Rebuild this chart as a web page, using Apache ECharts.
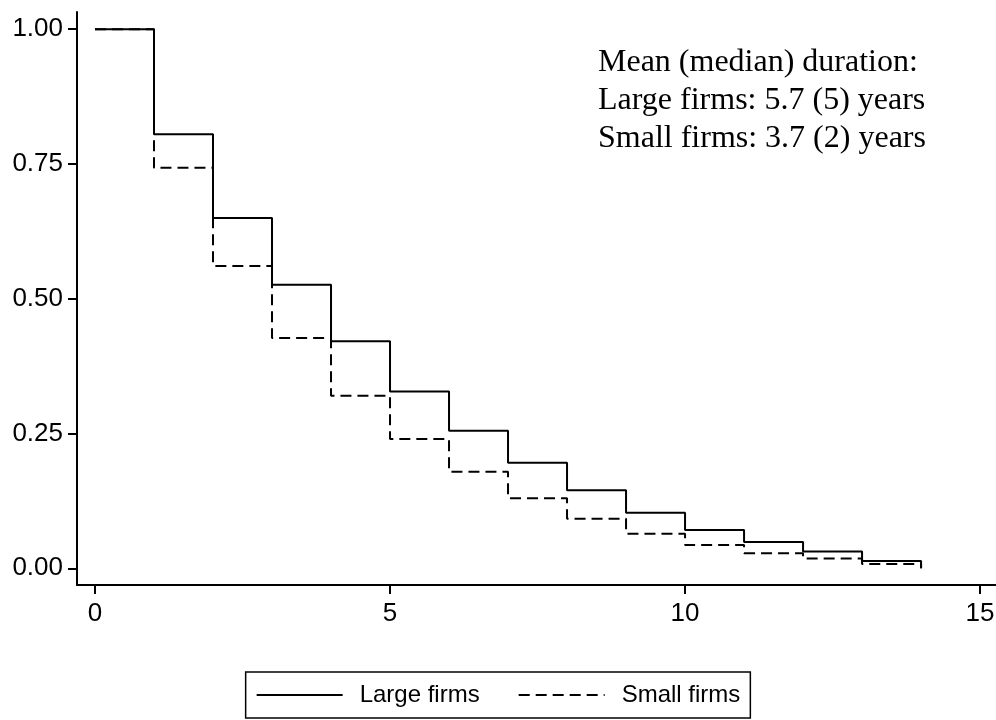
<!DOCTYPE html>
<html>
<head>
<meta charset="utf-8">
<script src="https://cdn.jsdelivr.net/npm/echarts@6/dist/echarts.min.js"></script>
<style>
html,body{margin:0;padding:0;background:#fff;}
#chart{width:996px;height:720px;}
</style>
</head>
<body>
<div id="chart"></div>
<script>
// Analysis time (years)
const years = [0, 1, 2, 3, 4, 5, 6, 7, 8, 9, 10, 11, 12, 13, 14];
// Survival estimates (step function, value holds until next year)
const largeFirms = [1.00, 0.805, 0.650, 0.526, 0.421, 0.328, 0.255, 0.196, 0.145, 0.103, 0.071, 0.049, 0.031, 0.0135, 0.0];
const smallFirms = [1.00, 0.743, 0.561, 0.427, 0.320, 0.240, 0.179, 0.130, 0.092, 0.064, 0.043, 0.028, 0.018, 0.008, 0.0];
const xTicks = [0, 5, 10, 15];
const yTicks = [0, 0.25, 0.5, 0.75, 1];
const seriesNames = ['Large firms', 'Small firms'];
const noteLines = ['Mean (median) duration:', 'Large firms: 5.7 (5) years', 'Small firms: 3.7 (2) years'];

const pairs = (xs, ys) => xs.map((x, i) => [x, ys[i]]);
const sans = 'Liberation Sans';

const chart = echarts.init(document.getElementById('chart'), null, {renderer: 'canvas'});
chart.setOption({
  backgroundColor: '#ffffff',
  animation: false,
  grid: {left: 77, right: 0, top: 12, bottom: 135, outerBoundsMode: 'none', containLabel: false},
  xAxis: {
    type: 'value', min: -0.305, max: 15.27,
    splitLine: {show: false},
    axisLine: {show: true, onZero: false, lineStyle: {color: '#000', width: 2}},
    axisTick: {show: true, customValues: xTicks, length: 9, lineStyle: {color: '#000', width: 2}},
    axisLabel: {customValues: xTicks, color: '#000', fontSize: 26, fontFamily: sans, margin: 16}
  },
  yAxis: {
    type: 'value', min: -0.031, max: 1.032,
    splitLine: {show: false},
    axisLine: {show: true, onZero: false, lineStyle: {color: '#000', width: 2}},
    axisTick: {show: true, customValues: yTicks, length: 9, lineStyle: {color: '#000', width: 2}},
    axisLabel: {customValues: yTicks, color: '#000', fontSize: 26, fontFamily: sans, margin: 14,
      formatter: v => v.toFixed(2)}
  },
  legend: {
    data: seriesNames,
    left: 'center', top: 672,
    itemWidth: 86, itemHeight: 14, itemGap: 38,
    padding: [11, 10, 11, 10],
    borderColor: '#000', borderWidth: 1.5,
    itemStyle: {opacity: 0},
    textStyle: {color: '#000', fontSize: 24, fontFamily: sans, padding: [0, 0, 0, 12]}
  },
  series: [
    {name: seriesNames[0], type: 'line', step: 'end', symbol: 'none', silent: true,
     data: pairs(years, largeFirms), lineStyle: {color: '#000', width: 2, type: 'solid'}, itemStyle: {color: '#000'}},
    {name: seriesNames[1], type: 'line', step: 'end', symbol: 'none', silent: true,
     data: pairs(years, smallFirms), lineStyle: {color: '#000', width: 2, type: [11, 6]}, itemStyle: {color: '#000'}}
  ],
  graphic: [{
    type: 'text', left: 598, top: 44,
    style: {text: noteLines.join('\n'), fill: '#000', fontSize: 32, fontFamily: 'Liberation Serif', lineHeight: 38}
  }]
});
</script>
</body>
</html>
